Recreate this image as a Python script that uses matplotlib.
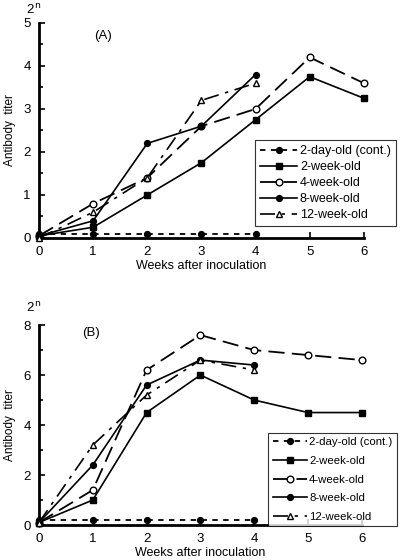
import matplotlib.pyplot as plt
from matplotlib.ticker import MultipleLocator

plt.rcParams["font.family"] = ["Liberation Sans", "DejaVu Sans"]

weeks = [0, 1, 2, 3, 4, 5, 6]
labels = ["2-day-old (cont.)", "2-week-old", "4-week-old", "8-week-old", "12-week-old"]

# panel A
a_2day = [0.1, 0.1, 0.1, 0.1, 0.1]
a_2wk = [0.05, 0.25, 1.0, 1.75, 2.75, 3.75, 3.25]
a_4wk = [0.05, 0.8, 1.4, 2.6, 3.0, 4.2, 3.6]
a_8wk = [0.05, 0.4, 2.2, 2.6, 3.8]
a_12wk = [0.0, 0.6, 1.4, 3.2, 3.6]

# panel B
b_2day = [0.2, 0.2, 0.2, 0.2, 0.2]
b_2wk = [0.1, 1.0, 4.5, 6.0, 5.0, 4.5, 4.5]
b_4wk = [0.1, 1.4, 6.2, 7.6, 7.0, 6.8, 6.6]
b_8wk = [0.1, 2.4, 5.6, 6.6, 6.4]
b_12wk = [0.1, 3.2, 5.2, 6.6, 6.2]

styles = [
    dict(color="black", lw=1.3, dashes=(3, 3), marker="o", ms=4.2, mfc="black"),
    dict(color="black", lw=1.2, ls="-", marker="s", ms=4.8, mfc="black"),
    dict(color="black", lw=1.3, dashes=(9, 4), marker="o", ms=4.8, mfc="white"),
    dict(color="black", lw=1.2, ls="-", marker="o", ms=4.2, mfc="black"),
    dict(color="black", lw=1.2, dashes=(9, 4, 2, 4), marker="^", ms=4.8, mfc="white"),
]


def panel(ax, series, ymax, ymajor, tag, tag_xy, leg_xy, leg_fs, leg_sp, pow_xy):
    for vals, lab, st in zip(series, labels, styles):
        ax.plot(weeks[:len(vals)], vals, label=lab, clip_on=False, zorder=3, **st)
    ax.set_xlim(0, 6)
    ax.set_ylim(0, ymax)
    ax.xaxis.set_major_locator(MultipleLocator(1))
    ax.yaxis.set_major_locator(MultipleLocator(ymajor))
    ax.yaxis.set_minor_locator(MultipleLocator(ymajor / 2))
    ax.tick_params(direction="in", width=1.2, length=4, labelsize=9.5, pad=6)
    ax.tick_params(which="minor", direction="in", width=1.2, length=3)
    for s in ["top", "right"]:
        ax.spines[s].set_visible(False)
    for s in ["left", "bottom"]:
        ax.spines[s].set_linewidth(2)
    ax.set_xlabel("Weeks after inoculation", fontsize=9, labelpad=1)
    ax.set_ylabel("Antibody  titer", fontsize=8.5, labelpad=5)
    ax.text(tag_xy[0], tag_xy[1], tag, transform=ax.transAxes, fontsize=9.5, va="center")
    ax.figure.text(pow_xy[0], pow_xy[1], r"2$^{\,\mathrm{n}}$",
                   fontsize=9.5, ha="center", va="center")
    leg = ax.legend(loc="upper left", bbox_to_anchor=leg_xy,
                    bbox_transform=ax.figure.transFigure, fontsize=leg_fs,
                    frameon=True, fancybox=False, edgecolor="black",
                    handlelength=3.0, handletextpad=0.2, labelspacing=leg_sp,
                    borderpad=0.4, borderaxespad=0)
    leg.get_frame().set_linewidth(0.8)


fig = plt.figure(figsize=(4.02, 5.6), dpi=100)
ax1 = fig.add_axes([0.097, 0.575, 0.808, 0.384])
ax2 = fig.add_axes([0.097, 0.0625, 0.803, 0.357])

panel(ax1, [a_2day, a_2wk, a_4wk, a_8wk, a_12wk], 5, 1, "(A)", (0.17, 0.94),
      (0.634, 0.75), 9, 0.32, (0.085, 0.982))
panel(ax2, [b_2day, b_2wk, b_4wk, b_8wk, b_12wk], 8, 2, "(B)", (0.135, 0.96),
      (0.667, 0.227), 8.2, 0.75, (0.085, 0.45))

fig.savefig("out.png", dpi=100)
